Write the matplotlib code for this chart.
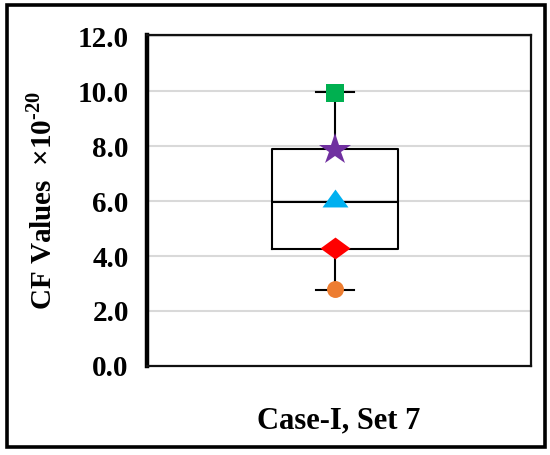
import matplotlib
matplotlib.use("Agg")
import matplotlib.pyplot as plt
from matplotlib.patches import Rectangle

plt.rcParams['font.family'] = ['Liberation Serif', 'DejaVu Serif']
plt.rcParams['font.weight'] = 'bold'
plt.rcParams['mathtext.fontset'] = 'custom'
plt.rcParams['mathtext.rm'] = 'Liberation Serif:bold'
plt.rcParams['mathtext.bf'] = 'Liberation Serif:bold'

# Data
category = "Case-I, Set 7"
whisker_low = 2.78
q1 = 4.25
median = 5.95
q3 = 7.9
whisker_high = 9.97
point_values = [9.95, 7.85, 6.1, 4.29, 2.8]
point_colors = ['#00B050', '#7030A0', '#00B0F0', '#FF0000', '#ED7D31']
yticks = [0.0, 2.0, 4.0, 6.0, 8.0, 10.0, 12.0]

# marker shapes / sizes (style)
tri = [(0, 0.69), (-1, -0.69), (1, -0.69)]
dia = [(-1, 0), (0, 0.73), (1, 0), (0, -0.73)]
point_markers = ['s', '*', tri, dia, 'o']
point_sizes = [13, 24, 18.7, 21.6, 12.2]

fig = plt.figure(figsize=(5.5, 4.55), dpi=100)
ax = fig.add_axes([0.267, 0.196, 0.698, 0.727])

stats = [dict(med=median, q1=q1, q3=q3, whislo=whisker_low, whishi=whisker_high, fliers=[])]
ax.bxp(stats, positions=[1], widths=0.328, showfliers=False, patch_artist=False,
       boxprops=dict(color='black', linewidth=1.5),
       medianprops=dict(color='black', linewidth=1.5),
       whiskerprops=dict(color='black', linewidth=1.5),
       capprops=dict(color='black', linewidth=1.5), capwidths=0.099, zorder=3)

for v, m, c, s in zip(point_values, point_markers, point_colors, point_sizes):
    ax.plot([1], [v], marker=m, color=c, markersize=s, markeredgewidth=0, linestyle='none', zorder=4)

ax.set_xlim(0.51, 1.51)
ax.set_ylim(0, 12.05)
ax.set_yticks(yticks)
ax.set_yticklabels([f"{t:.1f}" for t in yticks], fontsize=21, fontweight='bold')
ax.set_xticks([])
ax.tick_params(axis='y', length=0, pad=13)
ax.yaxis.grid(True, color='#d9d9d9', linewidth=1.5, zorder=0)
ax.set_axisbelow(True)

for side in ['top', 'right', 'bottom']:
    ax.spines[side].set_linewidth(1.6)
    ax.spines[side].set_color('#111111')
ax.spines['left'].set_linewidth(3.2)
ax.spines['left'].set_color('black')

ax.set_ylabel("CF Values  ×10$^{\u201020}$", fontsize=21, fontweight='bold', labelpad=15)
ax.set_xlabel(category, fontsize=22, fontweight='bold', labelpad=29)

fig.add_artist(Rectangle((0.0127, 0.0176), 0.978, 0.971, transform=fig.transFigure,
                         fill=False, edgecolor='black', linewidth=2.6))

fig.savefig("out.png", dpi=100)
